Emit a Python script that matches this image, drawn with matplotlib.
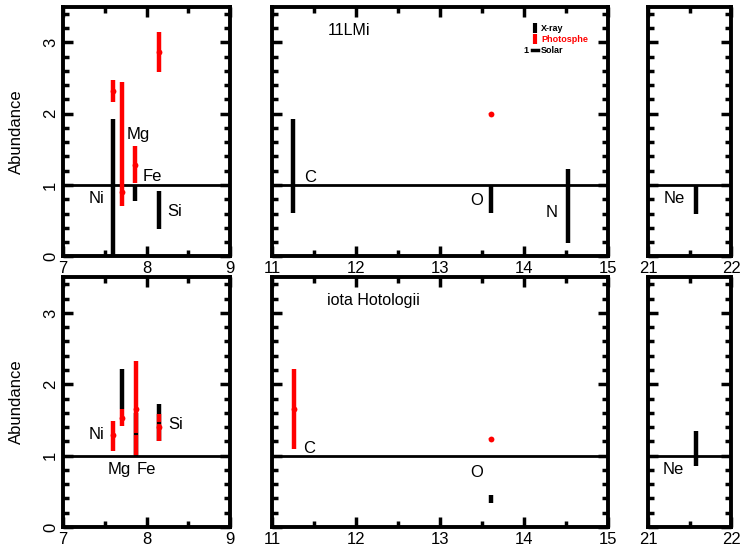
import matplotlib
matplotlib.use("Agg")
import matplotlib.pyplot as plt
from matplotlib.lines import Line2D
from matplotlib.ticker import MultipleLocator

plt.rcParams['font.family'] = ['Liberation Sans', 'DejaVu Sans']

# ---- 11 LMi (top row) ----
lmi_xray_x = [7.60, 7.86, 8.15, 11.25, 13.61, 14.52, 21.57]
lmi_xray_y = [0.80, 0.88, 0.63, 1.10, 0.80, 0.60, 0.80]
lmi_xray_lo = [0.00, 0.77, 0.38, 0.61, 0.61, 0.19, 0.59]
lmi_xray_hi = [1.92, 1.00, 0.91, 1.92, 1.00, 1.22, 0.98]

lmi_phot_x = [7.60, 7.70, 7.86, 8.15, 13.61]
lmi_phot_y = [2.32, 0.90, 1.28, 2.87, 2.00]
lmi_phot_lo = [2.17, 0.70, 1.03, 2.59, 1.99]
lmi_phot_hi = [2.47, 2.45, 1.54, 3.15, 2.01]

lmi_labels = ["Ni", "Mg", "Fe", "Si", "C", "O", "N", "Ne"]
lmi_label_x = [7.40, 7.90, 8.07, 8.34, 11.45, 13.44, 14.33, 21.32]
lmi_label_y = [0.81, 1.71, 1.12, 0.63, 1.11, 0.78, 0.62, 0.81]

# ---- iota Horologii (bottom row) ----
ioh_xray_x = [7.70, 7.87, 8.15, 13.61, 21.57]
ioh_xray_y = [1.93, 1.30, 1.46, 0.39, 1.10]
ioh_xray_lo = [1.65, 1.00, 1.20, 0.33, 0.85]
ioh_xray_hi = [2.22, 1.60, 1.72, 0.45, 1.34]

ioh_phot_x = [7.60, 7.70, 7.87, 8.15, 11.26, 13.61]
ioh_phot_y = [1.29, 1.53, 1.66, 1.40, 1.66, 1.24]
ioh_phot_lo = [1.06, 1.41, 1.01, 1.20, 1.10, 1.23]
ioh_phot_hi = [1.48, 1.65, 2.32, 1.58, 2.22, 1.25]

ioh_labels = ["Ni", "Mg", "Fe", "Si", "C", "O", "Ne"]
ioh_label_x = [7.40, 7.67, 8.00, 8.35, 11.44, 13.44, 21.30]
ioh_label_y = [1.30, 0.80, 0.80, 1.43, 1.10, 0.77, 0.80]

solar = 1.0
xranges = [(7, 9), (11, 15), (21, 22)]
xticks = [[7, 8, 9], [11, 12, 13, 14, 15], [21, 22]]

fig = plt.figure(figsize=(7.42, 5.49), dpi=100)
lefts = [0.085, 0.3666, 0.8733]
widths = [0.225, 0.4528, 0.1125]
bottoms = [0.533, 0.040]
height = 0.455

rows = [
    (lmi_xray_x, lmi_xray_y, lmi_xray_lo, lmi_xray_hi,
     lmi_phot_x, lmi_phot_y, lmi_phot_lo, lmi_phot_hi,
     lmi_labels, lmi_label_x, lmi_label_y, "11LMi"),
    (ioh_xray_x, ioh_xray_y, ioh_xray_lo, ioh_xray_hi,
     ioh_phot_x, ioh_phot_y, ioh_phot_lo, ioh_phot_hi,
     ioh_labels, ioh_label_x, ioh_label_y, "iota Hotologii"),
]

for r, row in enumerate(rows):
    (xx, xy, xlo, xhi, px, py, plo, phi, labs, lx, ly, star) = row
    xerr_dn = [v - lo for v, lo in zip(xy, xlo)]
    xerr_up = [hi - v for v, hi in zip(xy, xhi)]
    perr_dn = [v - lo for v, lo in zip(py, plo)]
    perr_up = [hi - v for v, hi in zip(py, phi)]
    for c in range(3):
        ax = fig.add_axes([lefts[c], bottoms[r], widths[c], height])
        ax.axhline(solar, color='black', lw=2, zorder=1)
        ax.errorbar(xx, xy, yerr=[xerr_dn, xerr_up], fmt='none',
                    ecolor='black', elinewidth=3.2, capsize=0, zorder=2)
        ax.errorbar(px, py, yerr=[perr_dn, perr_up], fmt='o', color='red',
                    ms=4.2, mew=0, elinewidth=3.2, capsize=0, zorder=3)
        ax.plot(xx, xy, ls='none', marker='_', color='black', ms=3,
                mew=1.5, zorder=4)
        for t, tx, ty in zip(labs, lx, ly):
            if xranges[c][0] <= tx <= xranges[c][1]:
                ax.text(tx, ty, t, fontsize=12, ha='center', va='center')
        ax.set_xlim(*xranges[c])
        ax.set_ylim(0, 3.5)
        ax.set_xticks(xticks[c])
        ax.xaxis.set_minor_locator(MultipleLocator(0.5))
        ax.yaxis.set_major_locator(MultipleLocator(1))
        ax.yaxis.set_minor_locator(MultipleLocator(0.2))
        ax.tick_params(which='both', direction='in', top=True, right=True,
                       width=2.5)
        ax.tick_params(which='major', length=7, labelsize=12)
        ax.tick_params(which='minor', length=4)
        for s in ax.spines.values():
            s.set_linewidth(2.8)
        if c == 0:
            ax.set_ylabel("Abundance", fontsize=12, labelpad=14)
            ax.tick_params(axis='y', labelrotation=90)
            for lbl in ax.get_yticklabels():
                lbl.set_va('center')
        else:
            ax.set_yticklabels([])
        if c == 1:
            ax.text(0.165, 0.905, star, transform=ax.transAxes, fontsize=11.5,
                    ha='left', va='center')
            if r == 0:
                handles = [
                    Line2D([], [], color='black', marker='|', ls='none', ms=7, mew=3),
                    Line2D([], [], color='red', marker='|', ls='none', ms=7, mew=3),
                    Line2D([], [], color='black', lw=2.5),
                ]
                leg = ax.legend(handles, ["X-ray", "Photosphe", "Solar"],
                                loc='upper left', bbox_to_anchor=(0.755, 0.955),
                                frameon=False, handlelength=0.7,
                                handletextpad=0.3, labelspacing=0.2,
                                borderpad=0.2,
                                prop={'size': 6.5, 'weight': 'bold'})
                for txt, col in zip(leg.get_texts(), ['black', 'red', 'black']):
                    txt.set_color(col)
                ax.text(0.765, 0.824, "1", transform=ax.transAxes, fontsize=6.5,
                        fontweight='bold', ha='right', va='center')

fig.savefig("out.png", dpi=100)
